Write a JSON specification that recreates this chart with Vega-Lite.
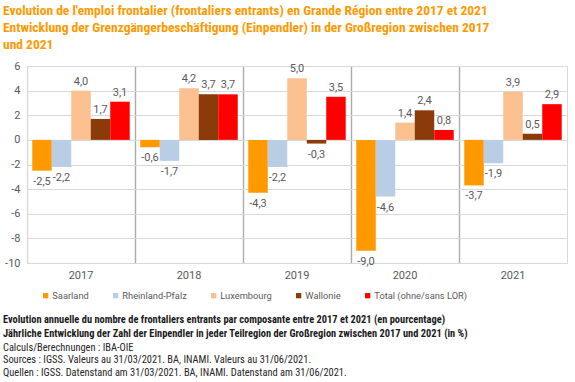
{
  "$schema": "https://vega.github.io/schema/vega-lite/v6.json",
  "padding": {"left": 3, "top": 4, "right": 8, "bottom": 0},
  "background": "white",
  "config": {
    "locale": {"number": {"decimal": ",", "thousands": ".", "grouping": [3], "currency": ["", " €"], "minus": "-"}},
    "font": "Roboto",
    "view": {"stroke": "#d9d9d9"},
    "concat": {"spacing": 34}
  },
  "title": {
    "text": ["Evolution de l'emploi frontalier (frontaliers entrants) en Grande Région entre 2017 et 2021", "Entwicklung der Grenzgängerbeschäftigung (Einpendler) in der Großregion zwischen 2017", "und 2021"],
    "anchor": "start",
    "font": "Roboto Condensed, Noto Sans Condensed, DejaVu Sans Condensed, Roboto",
    "fontSize": 13.5,
    "fontWeight": "bold",
    "color": "#FF9900",
    "lineHeight": 17,
    "offset": 8
  },
  "vconcat": [
    {
      "width": 540,
      "height": 197,
      "data": {"values": [
        {"year": "2017", "region": "Saarland", "value": -2.5},
        {"year": "2017", "region": "Rheinland-Pfalz", "value": -2.2},
        {"year": "2017", "region": "Luxembourg", "value": 4.0},
        {"year": "2017", "region": "Wallonie", "value": 1.7},
        {"year": "2017", "region": "Total (ohne/sans LOR)", "value": 3.1},
        {"year": "2018", "region": "Saarland", "value": -0.6},
        {"year": "2018", "region": "Rheinland-Pfalz", "value": -1.7},
        {"year": "2018", "region": "Luxembourg", "value": 4.2},
        {"year": "2018", "region": "Wallonie", "value": 3.7},
        {"year": "2018", "region": "Total (ohne/sans LOR)", "value": 3.7},
        {"year": "2019", "region": "Saarland", "value": -4.3},
        {"year": "2019", "region": "Rheinland-Pfalz", "value": -2.2},
        {"year": "2019", "region": "Luxembourg", "value": 5.0},
        {"year": "2019", "region": "Wallonie", "value": -0.3},
        {"year": "2019", "region": "Total (ohne/sans LOR)", "value": 3.5},
        {"year": "2020", "region": "Saarland", "value": -9.0},
        {"year": "2020", "region": "Rheinland-Pfalz", "value": -4.6},
        {"year": "2020", "region": "Luxembourg", "value": 1.4},
        {"year": "2020", "region": "Wallonie", "value": 2.4},
        {"year": "2020", "region": "Total (ohne/sans LOR)", "value": 0.8},
        {"year": "2021", "region": "Saarland", "value": -3.7},
        {"year": "2021", "region": "Rheinland-Pfalz", "value": -1.9},
        {"year": "2021", "region": "Luxembourg", "value": 3.9},
        {"year": "2021", "region": "Wallonie", "value": 0.5},
        {"year": "2021", "region": "Total (ohne/sans LOR)", "value": 2.9}
      ]},
      "encoding": {
        "x": {
          "field": "year", "type": "nominal",
          "scale": {"paddingInner": 0, "paddingOuter": 0},
          "axis": {
            "title": null, "labelAngle": 0, "ticks": false, "domain": false,
            "grid": true, "bandPosition": 0,
            "gridColor": {"condition": {"test": "datum.value === '2017'", "value": "#d9d9d9"}, "value": "#ababab"},
            "gridWidth": 1.4,
            "labelPadding": 6, "labelColor": "#595959", "labelFontSize": 11
          }
        },
        "xOffset": {
          "field": "region", "type": "nominal",
          "sort": ["Saarland", "Rheinland-Pfalz", "Luxembourg", "Wallonie", "Total (ohne/sans LOR)"],
          "scale": {"paddingInner": 0, "paddingOuter": 0.27}
        },
        "y": {
          "field": "value", "type": "quantitative",
          "scale": {"domain": [-10, 6], "nice": false},
          "axis": {
            "title": null, "values": [-10, -8, -6, -4, -2, 0, 2, 4, 6],
            "ticks": false, "domain": false, "gridColor": "#d9d9d9",
            "labelPadding": 7, "labelColor": "#595959", "labelFontSize": 11
          }
        }
      },
      "layer": [
        {
          "mark": {"type": "bar"},
          "encoding": {
            "color": {
              "field": "region", "type": "nominal",
              "sort": ["Saarland", "Rheinland-Pfalz", "Luxembourg", "Wallonie", "Total (ohne/sans LOR)"],
              "scale": {
                "domain": ["Saarland", "Rheinland-Pfalz", "Luxembourg", "Wallonie", "Total (ohne/sans LOR)"],
                "range": ["#FF9900", "#B9CDE5", "#FAC090", "#8B3A0A", "#FF0000"]
              },
              "legend": {
                "orient": "none", "legendX": 14, "legendY": 225,
                "direction": "horizontal", "title": null,
                "symbolType": "square", "symbolSize": 28, "symbolStrokeWidth": 0,
                "labelFontSize": 9.3, "labelColor": "#595959", "labelOffset": 2,
                "columnPadding": 22
              }
            }
          }
        },
        {
          "transform": [{"filter": "datum.value >= 0"}],
          "mark": {"type": "text", "baseline": "bottom", "dy": -4, "fontSize": 11, "color": "#595959"},
          "encoding": {"text": {"field": "value", "type": "quantitative", "format": ".1f"}}
        },
        {
          "transform": [{"filter": "datum.value < 0"}],
          "mark": {"type": "text", "baseline": "top", "dy": 5, "fontSize": 11, "color": "#595959"},
          "encoding": {"text": {"field": "value", "type": "quantitative", "format": ".1f"}}
        }
      ]
    },
    {
      "width": 540,
      "height": 1,
      "view": {"stroke": null},
      "data": {"values": [{"t": ""}]},
      "mark": {"type": "text"},
      "encoding": {"text": {"field": "t", "type": "nominal"}},
      "title": {
        "text": ["Evolution annuelle du nombre de frontaliers entrants par composante entre 2017 et 2021 (en pourcentage)", "Jährliche Entwicklung der Zahl der Einpendler in jeder Teilregion der Großregion zwischen 2017 und 2021 (in %)"],
        "subtitle": ["Calculs/Berechnungen : IBA-OIE", "Sources : IGSS. Valeurs au 31/03/2021. BA, INAMI. Valeurs au 31/06/2021.", "Quellen : IGSS. Datenstand am 31/03/2021. BA, INAMI. Datenstand am 31/06/2021."],
        "anchor": "start",
        "dx": -24,
        "font": "Roboto Condensed, Noto Sans Condensed, DejaVu Sans Condensed, Roboto",
        "fontSize": 10.4,
        "fontWeight": "bold",
        "color": "#1a1a1a",
        "lineHeight": 13.3,
        "subtitleFont": "Roboto Condensed, Noto Sans Condensed, DejaVu Sans Condensed, Roboto",
        "subtitleFontSize": 10.4,
        "subtitleFontWeight": "normal",
        "subtitleColor": "#262626",
        "subtitleLineHeight": 12.8,
        "subtitlePadding": 3.5,
        "offset": 0
      }
    }
  ]
}
